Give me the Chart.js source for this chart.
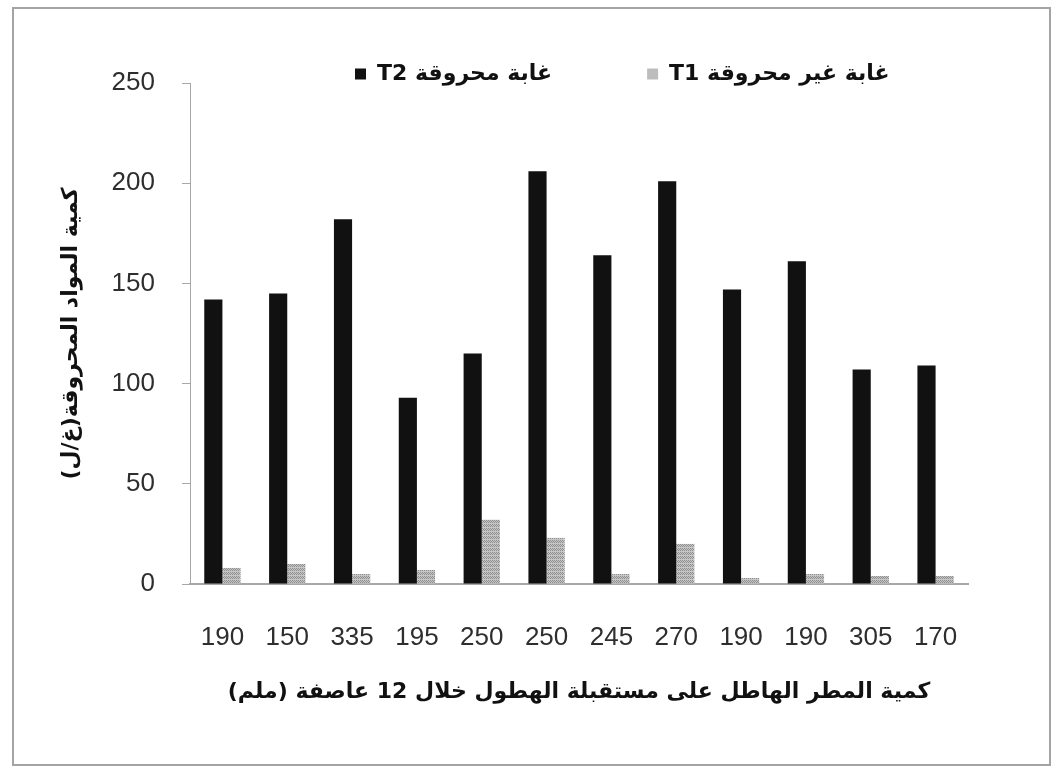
<!DOCTYPE html>
<html>
<head>
<meta charset="utf-8">
<script src="https://cdn.jsdelivr.net/npm/chart.js@4.4.1/dist/chart.umd.min.js"></script>
<style>
html,body{margin:0;padding:0;background:#fff;}
#wrap{position:absolute;left:0;top:0;width:1059px;height:773px;}
</style>
</head>
<body>
<div id="wrap"><canvas id="c" width="1059" height="773"></canvas></div>
<script>
// ---- data ----
const categories = ['190','150','335','195','250','250','245','270','190','190','305','170'];
const burnedT2 = [142,145,182,93,115,206,164,201,147,161,107,109];
const unburnedT1 = [8,10,5,7,32,23,5,20,3,5,4,4];
const seriesLabels = ['T2 غابة محروقة', 'T1 غابة غير محروقة'];
const yTicks = [0,50,100,150,200,250];
const yTitle = 'كمية المواد المحروقة(غ/ل)';
const xTitle = 'كمية المطر الهاطل على مستقبلة الهطول خلال 12 عاصفة (ملم)';

// ---- styling helpers ----
const canvas = document.getElementById('c');
const ctx = canvas.getContext('2d');
function makeTexture(){
  const p = document.createElement('canvas');
  p.width = 4; p.height = 4;
  const g = p.getContext('2d');
  g.fillStyle = '#c6c6c6'; g.fillRect(0,0,4,4);
  g.fillStyle = '#8e8e8e';
  g.fillRect(0,0,1,1); g.fillRect(2,0,1,1); g.fillRect(1,1,1,1); g.fillRect(3,1,1,1);
  g.fillRect(0,2,1,1); g.fillRect(2,2,1,1);
  return ctx.createPattern(p,'repeat');
}
const t1Fill = makeTexture();

const framePlugin = {
  id: 'frame',
  beforeDraw(chart){
    const c = chart.ctx;
    c.save();
    c.fillStyle = '#ffffff';
    c.fillRect(0,0,chart.width,chart.height);
    c.strokeStyle = '#a4a4a4';
    c.lineWidth = 2;
    c.strokeRect(13, 8, 1037, 757);
    c.restore();
  }
};
const legendPlacer = {
  id: 'legendPlacer',
  afterLayout(chart){
    const lg = chart.legend;
    lg.left = 260; lg.right = 1300;
    lg.top = -32; lg.bottom = 92;
  }
};

const arabicFont = '"DejaVu Sans", sans-serif';
const numFont = '"Liberation Sans", Arial, sans-serif';

new Chart(ctx, {
  type: 'bar',
  data: {
    labels: categories,
    datasets: [
      { label: seriesLabels[0], data: burnedT2, backgroundColor: '#111111', borderWidth: 0,
        categoryPercentage: 0.56, barPercentage: 1.0 },
      { label: seriesLabels[1], data: unburnedT1, backgroundColor: t1Fill, borderWidth: 0,
        categoryPercentage: 0.56, barPercentage: 1.0 }
    ]
  },
  options: {
    responsive: false,
    animation: false,
    layout: { padding: { left: 40, right: 91, top: 63, bottom: 40 } },
    plugins: {
      tooltip: { enabled: false },
      legend: {
        position: 'top',
        align: 'start',
        maxHeight: 20,
        labels: {
          boxWidth: 11, boxHeight: 11, padding: 95, color: '#111',
          font: { family: arabicFont, size: 22, weight: 'bold' },
          generateLabels(chart){
            const items = Chart.defaults.plugins.legend.labels.generateLabels(chart);
            items.forEach((it,i)=>{ it.lineWidth = 0; if (i===1) it.fillStyle = '#bdbdbd'; });
            return items;
          }
        }
      }
    },
    scales: {
      x: {
        afterFit(s){ s.height = 149; },
        grid: { display: false },
        border: { display: true, color: '#a8a8a8', width: 2 },
        ticks: { font: { family: numFont, size: 26 }, color: '#2e2e2e', padding: 30, maxRotation: 0, autoSkip: false },
        title: { display: true, text: xTitle, color: '#111',
          font: { family: arabicFont, size: 22, weight: 'bold' }, padding: { top: 0, bottom: 28 } }
      },
      y: {
        min: 0, max: 250,
        afterBuildTicks(s){ s.ticks = yTicks.map(v => ({ value: v })); },
        afterFit(s){ s.width = 150; },
        grid: { display: true, drawOnChartArea: false, drawTicks: true, tickLength: 8, color: '#a8a8a8', lineWidth: 1 },
        border: { display: true, color: '#a8a8a8', width: 1 },
        ticks: { font: { family: numFont, size: 26 }, color: '#2e2e2e', padding: 27 },
        title: { display: true, text: yTitle, color: '#111',
          font: { family: arabicFont, size: 22, weight: 'bold' }, padding: { top: 18, bottom: 0 } }
      }
    }
  },
  plugins: [framePlugin, legendPlacer]
});
</script>
</body>
</html>
